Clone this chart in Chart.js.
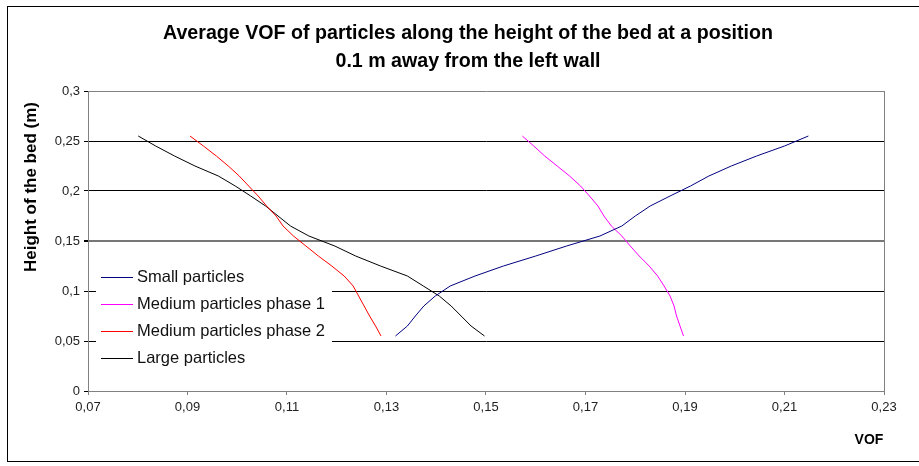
<!DOCTYPE html>
<html><head><meta charset="utf-8">
<script src="https://cdn.jsdelivr.net/npm/chart.js@4.4.1/dist/chart.umd.min.js"></script>
<style>html,body{margin:0;padding:0;background:#fff;}</style>
</head><body>
<canvas id="c" width="919" height="466"></canvas>
<script>
const heights = [0.055,0.065,0.075,0.085,0.095,0.105,0.115,0.125,0.135,0.145,0.155,0.165,0.175,0.185,0.195,0.205,0.215,0.225,0.235,0.245,0.255];
const smallParticles = [0.1318,0.1342,0.1358,0.1375,0.1398,0.1428,0.1478,0.1535,0.1600,0.1662,0.1729,0.1773,0.1800,0.1830,0.1870,0.1911,0.1948,0.1993,0.2044,0.2100,0.2148];
const mediumPhase1 = [0.1897,0.1890,0.1883,0.1878,0.1870,0.1858,0.1845,0.1828,0.1808,0.1790,0.1773,0.1752,0.1737,0.1725,0.1708,0.1690,0.1668,0.1643,0.1618,0.1596,0.1573];
const mediumPhase2 = [0.1289,0.1278,0.1266,0.1255,0.1244,0.1233,0.1215,0.1190,0.1163,0.1138,0.1113,0.1092,0.1078,0.1059,0.1042,0.1023,0.1004,0.0982,0.0958,0.0932,0.0905];
const largeParticles = [0.1497,0.1470,0.1450,0.1430,0.1406,0.1374,0.1342,0.1288,0.1238,0.1196,0.1144,0.1107,0.1082,0.1057,0.1027,0.0996,0.0962,0.0915,0.0874,0.0836,0.0801];
const seriesNames = ['Small particles','Medium particles phase 1','Medium particles phase 2','Large particles'];
const seriesColors = ['#000080','#FF00FF','#FF0000','#000000'];
const xTickValues = [0.07,0.09,0.11,0.13,0.15,0.17,0.19,0.21,0.23];
const xTickLabels = ['0,07','0,09','0,11','0,13','0,15','0,17','0,19','0,21','0,23'];
const yTickValues = [0,0.05,0.1,0.15,0.2,0.25,0.3];
const yTickLabels = ['0','0,05','0,1','0,15','0,2','0,25','0,3'];
const titleLines = ['Average VOF of particles along the height of the bed at a position','0.1 m away from the left wall'];
const xAxisTitle = 'VOF';
const yAxisTitle = 'Height of the bed (m)';

const allSeries = [smallParticles, mediumPhase1, mediumPhase2, largeParticles];
const datasets = allSeries.map((vals, i) => ({
  label: seriesNames[i],
  data: vals.map((v, j) => ({x: v, y: heights[j]})),
  borderColor: seriesColors[i],
  backgroundColor: seriesColors[i],
  borderWidth: 1,
  pointRadius: 0,
  tension: 0,
  fill: false
}));

const FONT = '"Liberation Sans", Arial, sans-serif';

function condensedText(ctx, text, x, y, targetWidth) {
  const w = ctx.measureText(text).width;
  const s = targetWidth / w;
  ctx.save();
  ctx.translate(x, y);
  ctx.scale(s, 1);
  ctx.fillText(text, 0, 0);
  ctx.restore();
}

const decor = {
  id: 'decor',
  beforeDatasetsDraw(chart) {
    const ctx = chart.ctx;
    ctx.save();
    // legend (drawn under the data lines, hides grid lines)
    ctx.fillStyle = '#fff';
    ctx.fillRect(96, 262, 236, 110);
    ctx.font = '16.5px ' + FONT;
    ctx.textAlign = 'left';
    ctx.textBaseline = 'middle';
    seriesNames.forEach((name, i) => {
      const y = 277 + i * 27;
      ctx.fillStyle = seriesColors[i];
      ctx.fillRect(101, y, 32, 1);
      ctx.fillStyle = '#111';
      ctx.fillText(name, 137, y);
    });
    ctx.restore();
  },
  afterDraw(chart) {
    const ctx = chart.ctx;
    ctx.save();
    // frame
    ctx.strokeStyle = '#000';
    ctx.lineWidth = 1;
    ctx.strokeRect(7.5, 6.5, 940, 455);
    // title
    ctx.fillStyle = '#000';
    ctx.textAlign = 'center';
    ctx.textBaseline = 'middle';
    ctx.font = 'bold 20px ' + FONT;
    condensedText(ctx, titleLines[0], 468, 33, 610);
    const w2 = ctx.measureText(titleLines[1]).width * (610 / ctx.measureText(titleLines[0]).width);
    condensedText(ctx, titleLines[1], 468, 61, w2);
    // x axis title
    ctx.font = 'bold 14px ' + FONT;
    ctx.fillText(xAxisTitle, 869, 440);
    // y axis title
    ctx.save();
    ctx.translate(31, 187);
    ctx.rotate(-Math.PI / 2);
    ctx.font = 'bold 17px ' + FONT;
    ctx.fillText(yAxisTitle, 0, 0);
    ctx.restore();
    ctx.restore();
  }
};

new Chart(document.getElementById('c'), {
  type: 'line',
  data: { datasets },
  plugins: [decor],
  options: {
    responsive: false,
    animation: false,
    layout: { padding: { top: 91, right: 35, left: 0, bottom: 0 } },
    plugins: { legend: { display: false }, title: { display: false }, tooltip: { enabled: false } },
    scales: {
      x: {
        type: 'linear',
        min: 0.07, max: 0.23,
        afterBuildTicks: s => { s.ticks = xTickValues.map(v => ({ value: v })); },
        afterFit: s => { s.height = 75; },
        ticks: {
          autoSkip: false, maxRotation: 0, padding: 5,
          color: '#222', font: { family: FONT, size: 13 },
          callback: (v, i) => xTickLabels[i]
        },
        grid: {
          drawOnChartArea: true,
          tickLength: 4,
          tickColor: '#808080',
          color: c => (c.tick && Math.abs(c.tick.value - 0.23) < 1e-9) ? '#808080' : 'rgba(0,0,0,0)'
        },
        border: { color: '#808080', width: 1 }
      },
      y: {
        type: 'linear',
        min: 0, max: 0.3,
        afterBuildTicks: s => { s.ticks = yTickValues.map(v => ({ value: v })); },
        afterFit: s => { s.width = 88; },
        ticks: {
          autoSkip: false, padding: 4,
          color: '#222', font: { family: FONT, size: 13 },
          callback: (v, i) => yTickLabels[i]
        },
        grid: {
          tickLength: 4,
          color: c => {
            if (!c.tick) return '#000';
            const v = c.tick.value;
            if (Math.abs(v - 0.3) < 1e-9 || v === 0) return '#808080';
            if (Math.abs(v - 0.15) < 1e-9) return '#777';
            return '#000';
          },
          lineWidth: c => (c.tick && Math.abs(c.tick.value - 0.15) < 1e-9) ? 2 : 1,
          tickColor: '#000'
        },
        border: { color: '#808080', width: 1 }
      }
    }
  }
});
</script>
</body></html>
